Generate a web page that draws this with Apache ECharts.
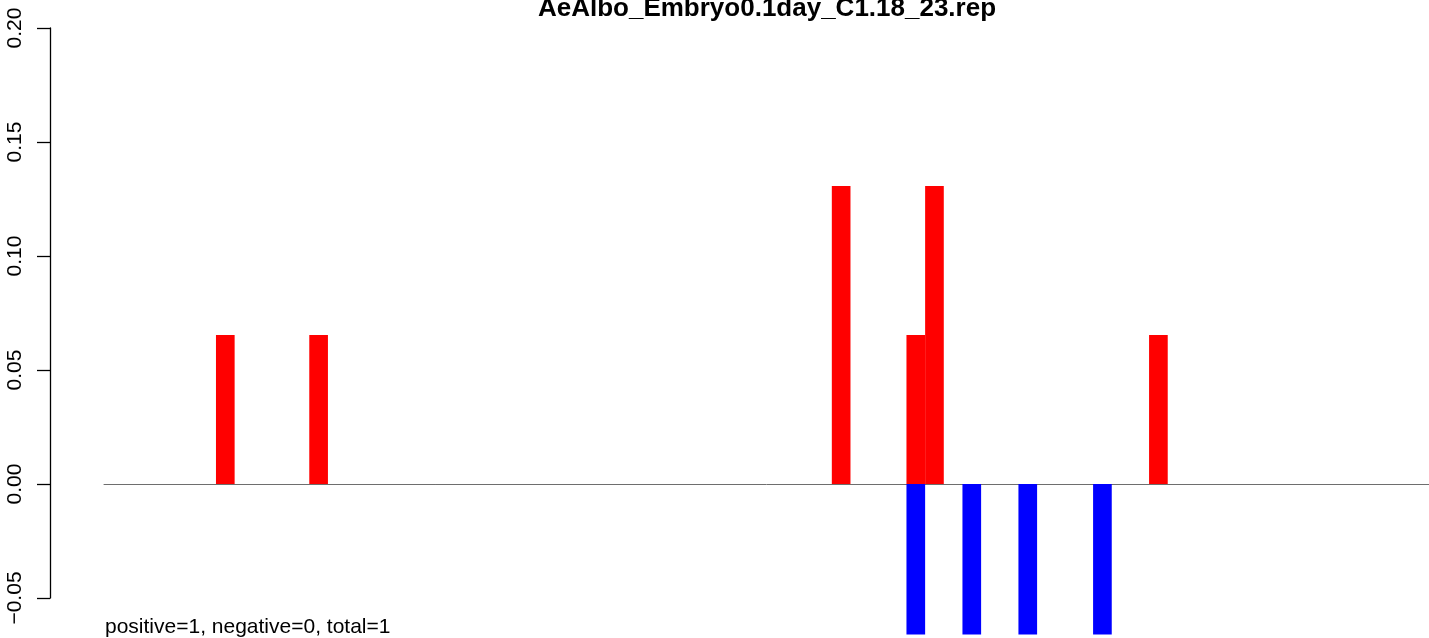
<!DOCTYPE html>
<html>
<head>
<meta charset="utf-8">
<script src="https://cdn.jsdelivr.net/npm/echarts@6/dist/echarts.min.js"></script>
<style>
html,body{margin:0;padding:0;background:#fff;}
#chart{width:1429px;height:638px;}
</style>
</head>
<body>
<div id="chart"></div>
<script>
const titleText = 'AeAlbo_Embryo0.1day_C1.18_23.rep';
const footerText = 'positive=1, negative=0, total=1';
const categories = [
  1,2,3,4,5,6,7,8,9,10,
  11,12,13,14,15,16,17,18,19,20,
  21,22,23,24,25,26,27,28,29,30,
  31,32,33,34,35,36,37,38,39,40,
  41,42,43,44,45,46,47,48,49,50,
  51,52,53,54,55,56,57,58,59,60,
  61,62,63,64,65,66,67,68,69,70,
  71
];
const positiveValues = [
  0,0,0,0,0,0,0.0654,0,0,0,
  0,0.0654,0,0,0,0,0,0,0,0,
  0,0,0,0,0,0,0,0,0,0,
  0,0,0,0,0,0,0,0,0,0.1307,
  0,0,0,0.0654,0.1307,0,0,0,0,0,
  0,0,0,0,0,0,0.0654,0,0,0,
  0,0,0,0,0,0,0,0,0,0,
  0
];
const negativeValues = [
  0,0,0,0,0,0,0,0,0,0,
  0,0,0,0,0,0,0,0,0,0,
  0,0,0,0,0,0,0,0,0,0,
  0,0,0,0,0,0,0,0,0,0,
  0,0,0,-0.066,0,0,-0.066,0,0,-0.066,
  0,0,0,-0.066,0,0,0,0,0,0,
  0,0,0,0,0,0,0,0,0,0,
  0
];
const yMin = -0.05, yMax = 0.20, yStep = 0.05;

const chart = echarts.init(document.getElementById('chart'), null, {renderer: 'canvas'});
const font = '"Liberation Sans", Arial, sans-serif';
chart.setOption({
  animation: false,
  backgroundColor: '#ffffff',
  grid: {left: 104, top: 28, width: 1328, height: 570, containLabel: false},
  xAxis: {
    type: 'category',
    data: categories,
    boundaryGap: true,
    axisLine: {show: true, onZero: true, lineStyle: {color: '#6e6e6e', width: 1}},
    axisTick: {show: false},
    axisLabel: {show: false},
    splitLine: {show: false}
  },
  yAxis: {
    type: 'value',
    min: yMin, max: yMax, interval: yStep,
    offset: 54,
    axisLine: {show: true, onZero: false, lineStyle: {color: '#000', width: 1.3}},
    axisTick: {show: true, length: 13, inside: false, lineStyle: {color: '#000', width: 1.3}},
    splitLine: {show: false},
    axisLabel: {
      rotate: 90,
      margin: 24,
      color: '#000',
      fontSize: 21,
      fontFamily: font,
      formatter: v => v.toFixed(2).replace('-', '\u2212')
    }
  },
  series: [
    {
      type: 'bar', name: 'positive', data: positiveValues,
      barWidth: '100%', barGap: '-100%', clip: false,
      itemStyle: {color: '#FF0000'}
    },
    {
      type: 'bar', name: 'negative', data: negativeValues,
      barWidth: '100%', barGap: '-100%', clip: false,
      itemStyle: {color: '#0000FF'}
    }
  ],
  graphic: [
    {
      type: 'text',
      x: 767, y: -4,
      style: {text: titleText, fontSize: 26, fontWeight: 'bold', fontFamily: font, fill: '#000', textAlign: 'center', textVerticalAlign: 'top'}
    },
    {
      type: 'text',
      x: 105, y: 638,
      style: {text: footerText, fontSize: 21, fontFamily: font, fill: '#000', textAlign: 'left', textVerticalAlign: 'bottom'}
    }
  ]
});
</script>
</body>
</html>
